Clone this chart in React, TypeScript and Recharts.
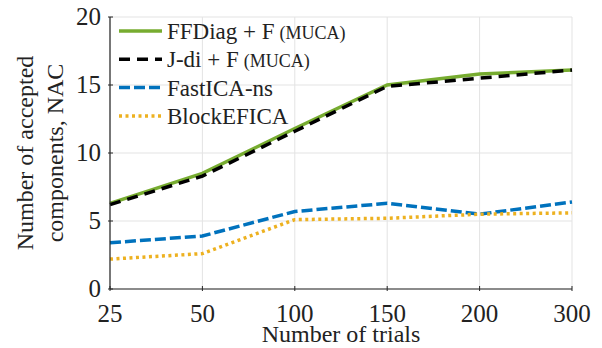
import React from 'react';
import { LineChart, Line, XAxis, YAxis, CartesianGrid, Legend } from 'recharts';

// Number of trials (categorical, evenly spaced)
const trials = ['25', '50', '100', '150', '200', '300'];

// Number of accepted components per method
const ffdiag = [6.3, 8.5, 11.8, 15.0, 15.8, 16.1];
const jdi = [6.2, 8.3, 11.6, 14.9, 15.5, 16.1];
const fastica = [3.4, 3.9, 5.7, 6.3, 5.5, 6.4];
const blockefica = [2.2, 2.6, 5.1, 5.2, 5.5, 5.6];

const yTicks = [0, 5, 10, 15, 20];

const seriesOrder = ['FFDiag + F (MUCA)', 'J-di + F (MUCA)', 'FastICA-ns', 'BlockEFICA'];

const data = trials.map((t, i) => ({
  trials: t,
  ffdiag: ffdiag[i],
  jdi: jdi[i],
  fastica: fastica[i],
  blockefica: blockefica[i],
}));

const FONT = '"Liberation Serif", "Times New Roman", serif';
const AXIS = '#262626';
const TEXT = '#222';

const renderXTick = (props: any) => {
  const { x, y, payload } = props;
  return (
    <g key={`xt-${payload.value}`}>
      <line x1={x} y1={y} x2={x} y2={y - 5} stroke={AXIS} strokeWidth={1} />
      <text x={x} y={y + 31} textAnchor="middle" fontFamily={FONT} fontSize={25} fill={TEXT}>
        {payload.value}
      </text>
    </g>
  );
};

const renderYTick = (props: any) => {
  const { x, y, payload } = props;
  return (
    <g key={`yt-${payload.value}`}>
      <line x1={x} y1={y} x2={x + 5} y2={y} stroke={AXIS} strokeWidth={1} />
      <text x={x - 7} y={y + 8} textAnchor="end" fontFamily={FONT} fontSize={25} fill={TEXT}>
        {payload.value}
      </text>
    </g>
  );
};

const renderLegend = (props: any) => {
  const items = [...(props.payload || [])].sort(
    (a: any, b: any) => seriesOrder.indexOf(a.value) - seriesOrder.indexOf(b.value)
  );
  return (
    <svg width={360} height={130} style={{ display: 'block', overflow: 'visible' }}>
      {items.map((entry: any, i: number) => {
        const cy = 31 + i * 28.3;
        const name: string = entry.value;
        const idx = name.indexOf(' (');
        const main = idx >= 0 ? name.slice(0, idx) : name;
        const small = idx >= 0 ? name.slice(idx + 1) : '';
        const dash = entry.payload?.strokeDasharray;
        return (
          <g key={name}>
            <line
              x1={119}
              y1={cy}
              x2={162}
              y2={cy}
              stroke={entry.color}
              strokeWidth={3.5}
              strokeDasharray={dash}
            />
            <text x={167} y={cy + 8} fontFamily={FONT} fontSize={23} fill={TEXT}>
              {main}
              {small && (
                <tspan fontSize={18} dx={5}>
                  {small}
                </tspan>
              )}
            </text>
          </g>
        );
      })}
    </svg>
  );
};

export default function App() {
  return (
    <div style={{ position: 'fixed', left: 0, top: 0, width: 602, height: 348, background: '#fff' }}>
      <LineChart
        width={602}
        height={348}
        data={data}
        margin={{ top: 17, right: 30, left: 0, bottom: 0 }}
      >
        <CartesianGrid stroke="#e3e3e3" strokeWidth={1} />
        <XAxis
          dataKey="trials"
          type="category"
          height={59}
          tickSize={0}
          tickLine={false}
          tick={renderXTick}
          axisLine={{ stroke: AXIS, strokeWidth: 1.2 }}
          interval={0}
        />
        <YAxis
          type="number"
          domain={[0, 20]}
          ticks={yTicks}
          width={110}
          tickSize={0}
          tickLine={false}
          tick={renderYTick}
          axisLine={{ stroke: AXIS, strokeWidth: 1.2 }}
          interval={0}
        />
        <Legend
          layout="vertical"
          align="center"
          verticalAlign="middle"
          content={renderLegend}
          wrapperStyle={{ position: 'absolute', left: 0, top: 0, width: 360, height: 130 }}
        />
        <Line
          dataKey="ffdiag"
          name={seriesOrder[0]}
          stroke="#77AC30"
          strokeWidth={3.5}
          dot={false}
          type="linear"
          isAnimationActive={false}
        />
        <Line
          dataKey="jdi"
          name={seriesOrder[1]}
          stroke="#000000"
          strokeWidth={3.5}
          strokeDasharray="11 7"
          dot={false}
          type="linear"
          isAnimationActive={false}
        />
        <Line
          dataKey="fastica"
          name={seriesOrder[2]}
          stroke="#0072BD"
          strokeWidth={3.5}
          strokeDasharray="11 4"
          dot={false}
          type="linear"
          isAnimationActive={false}
        />
        <Line
          dataKey="blockefica"
          name={seriesOrder[3]}
          stroke="#EDB120"
          strokeWidth={3.5}
          strokeDasharray="3 3.5"
          dot={false}
          type="linear"
          isAnimationActive={false}
        />
      </LineChart>
      <svg
        width={602}
        height={348}
        style={{ position: 'absolute', left: 0, top: 0, pointerEvents: 'none' }}
      >
        <text
          transform="translate(33,153) rotate(-90)"
          textAnchor="middle"
          fontFamily={FONT}
          fontSize={24}
          fill={TEXT}
        >
          Number of accepted
        </text>
        <text
          transform="translate(63,153) rotate(-90)"
          textAnchor="middle"
          fontFamily={FONT}
          fontSize={24}
          fill={TEXT}
        >
          components, NAC
        </text>
        <text x={341} y={342} textAnchor="middle" fontFamily={FONT} fontSize={24} fill={TEXT}>
          Number of trials
        </text>
      </svg>
    </div>
  );
}
